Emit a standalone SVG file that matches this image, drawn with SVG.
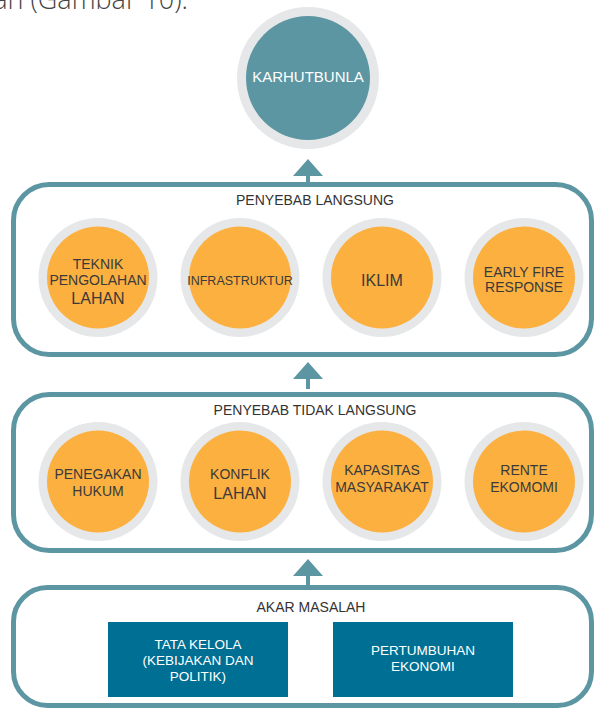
<svg xmlns="http://www.w3.org/2000/svg" width="594" height="708" viewBox="0 0 594 708">
  <style>
    .frame { fill: #ffffff; stroke: #5b96a2; stroke-width: 5; }
    .ring { fill: #e6e7e8; }
    .cause { fill: #fbb040; }
    .hub { fill: #5b96a2; }
    .root { fill: #006f94; }
    .arrow { fill: #5b96a2; }
    text { font-family: "Liberation Sans", Arial, sans-serif; text-anchor: middle; }
    .title { font-size: 14px; fill: #333333; }
    .lbl { font-size: 14px; fill: #3a3a3a; }
    .lbl-l { font-size: 16px; fill: #3a3a3a; }
    .lbl-s { font-size: 12.5px; fill: #3a3a3a; }
    .wlbl { font-size: 13.5px; fill: #ffffff; }
    .body { font-family: "Open Sans", "Liberation Sans", sans-serif; font-weight: 300; font-size: 27px; fill: #444444; text-anchor: end; }
  </style>
  <defs>
    <path id="up" d="M0,-9 L15,8 L2,8 L2,18 L-2,18 L-2,8 L-15,8 Z"/>
  </defs>

  <!-- running text above the figure -->
  <text class="body" x="188" y="9">lahan (Gambar 10).</text>

  <!-- connectors -->
  <g id="connectors">
    <use href="#up" class="arrow" x="308" y="168"/>
    <use href="#up" class="arrow" x="308" y="371"/>
    <use href="#up" class="arrow" x="308" y="568"/>
  </g>

  <!-- outcome -->
  <g id="karhutbunla">
    <circle class="ring" cx="308" cy="78" r="71"/>
    <circle class="hub" cx="308" cy="78" r="62"/>
    <text class="wlbl" x="308" y="82" style="font-size:15px">KARHUTBUNLA</text>
  </g>

  <!-- direct causes -->
  <g id="penyebab-langsung">
    <rect class="frame" x="13.5" y="184.5" width="578" height="170" rx="36"/>
    <text class="title" x="315" y="205">PENYEBAB LANGSUNG</text>
  </g>
  <g id="teknik-pengolahan-lahan">
    <circle class="ring" cx="98" cy="277.5" r="59.5"/>
    <circle class="cause" cx="98" cy="277.5" r="51"/>
    <text class="lbl" x="98" y="269">TEKNIK</text>
    <text class="lbl" x="98" y="285">PENGOLAHAN</text>
    <text class="lbl-l" x="98" y="304">LAHAN</text>
  </g>
  <g id="infrastruktur">
    <circle class="ring" cx="240" cy="277.5" r="59.5"/>
    <circle class="cause" cx="240" cy="277.5" r="51"/>
    <text class="lbl-s" x="240" y="285">INFRASTRUKTUR</text>
  </g>
  <g id="iklim">
    <circle class="ring" cx="382" cy="277.5" r="59.5"/>
    <circle class="cause" cx="382" cy="277.5" r="51"/>
    <text class="lbl-l" x="382" y="286">IKLIM</text>
  </g>
  <g id="early-fire-response">
    <circle class="ring" cx="524" cy="277.5" r="59.5"/>
    <circle class="cause" cx="524" cy="277.5" r="51"/>
    <text class="lbl" x="524" y="277">EARLY FIRE</text>
    <text class="lbl" x="524" y="292">RESPONSE</text>
  </g>

  <!-- indirect causes -->
  <g id="penyebab-tidak-langsung">
    <rect class="frame" x="13.5" y="394.5" width="578" height="156" rx="36"/>
    <text class="title" x="315" y="415">PENYEBAB TIDAK LANGSUNG</text>
  </g>
  <g id="penegakan-hukum">
    <circle class="ring" cx="98" cy="481.5" r="59.5"/>
    <circle class="cause" cx="98" cy="481.5" r="51"/>
    <text class="lbl" x="98" y="479">PENEGAKAN</text>
    <text class="lbl" x="98" y="496">HUKUM</text>
  </g>
  <g id="konflik-lahan">
    <circle class="ring" cx="240" cy="481.5" r="59.5"/>
    <circle class="cause" cx="240" cy="481.5" r="51"/>
    <text class="lbl" x="240" y="479">KONFLIK</text>
    <text class="lbl-l" x="240" y="499">LAHAN</text>
  </g>
  <g id="kapasitas-masyarakat">
    <circle class="ring" cx="382" cy="481.5" r="59.5"/>
    <circle class="cause" cx="382" cy="481.5" r="51"/>
    <text class="lbl" x="382" y="475">KAPASITAS</text>
    <text class="lbl" x="382" y="492">MASYARAKAT</text>
  </g>
  <g id="rente-ekomomi">
    <circle class="ring" cx="524" cy="481.5" r="59.5"/>
    <circle class="cause" cx="524" cy="481.5" r="51"/>
    <text class="lbl" x="524" y="475">RENTE</text>
    <text class="lbl" x="524" y="492">EKOMOMI</text>
  </g>

  <!-- root causes -->
  <g id="akar-masalah">
    <rect class="frame" x="13.5" y="587.5" width="578" height="118" rx="34"/>
    <text class="title" x="311" y="612">AKAR MASALAH</text>
  </g>
  <g id="tata-kelola">
    <rect class="root" x="108" y="622" width="180" height="75"/>
    <text class="wlbl" x="198" y="649">TATA KELOLA</text>
    <text class="wlbl" x="198" y="665">(KEBIJAKAN DAN</text>
    <text class="wlbl" x="198" y="681">POLITIK)</text>
  </g>
  <g id="pertumbuhan-ekonomi">
    <rect class="root" x="333" y="622" width="180" height="75"/>
    <text class="wlbl" x="423" y="655">PERTUMBUHAN</text>
    <text class="wlbl" x="423" y="671">EKONOMI</text>
  </g>
</svg>
